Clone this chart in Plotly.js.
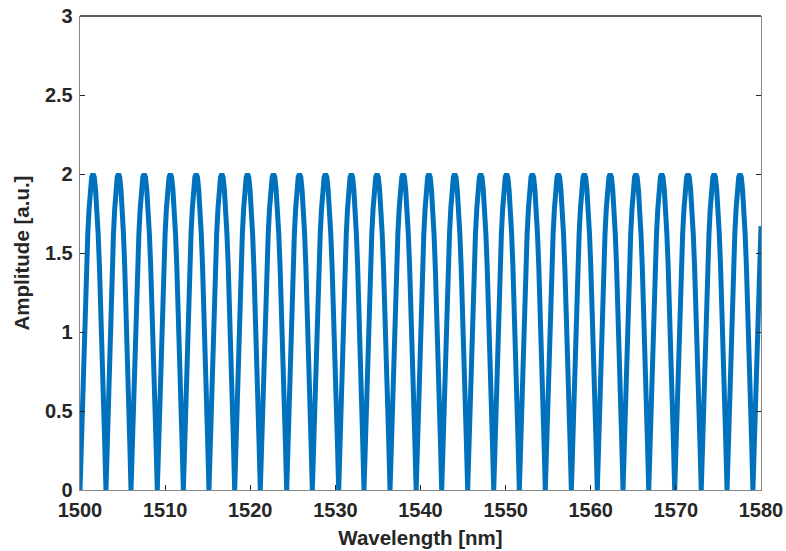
<!DOCTYPE html>
<html>
<head>
<meta charset="utf-8">
<script src="https://cdn.plot.ly/plotly-3.0.1.min.js"></script>
<style>html,body{margin:0;padding:0;background:#fff;}#chart{width:786px;height:551px;}</style>
</head>
<body>
<div id="chart"></div>
<script>
// Wavelengths (nm) of the zeros of the curve
const troughs = [1500.00,1503.05,1505.99,1509.08,1512.14,1515.15,1518.17,1521.18,1524.28,1527.29,
  1530.39,1533.36,1536.42,1539.49,1542.49,1545.54,1548.60,1551.61,1554.66,1557.72,
  1560.77,1563.79,1566.81,1569.86,1572.98,1576.01,1579.05];
// Shape of one fringe (fraction of period -> amplitude)
const profileFrac = [0,0.05,0.10,0.15,0.20,0.25,0.30,0.35,0.40,0.45,0.50,0.55,0.60,0.65,0.70,0.75,0.80,0.85,0.90,0.95];
const profileAmp  = [0,0.31,0.62,0.91,1.18,1.41,1.62,1.78,1.90,1.98,2.00,1.98,1.90,1.78,1.62,1.41,1.18,0.91,0.62,0.31];
// Last point of the curve at the right edge
const endWavelength = 1580;
const endAmp = 1.67;
const xTicks = [1500,1510,1520,1530,1540,1550,1560,1570,1580];
const yTicks = [0,0.5,1,1.5,2,2.5,3];
const yTickText = ['0','0.5','1','1.5','2','2.5','3'];

const xs = [], ys = [];
for (let i = 0; i < troughs.length; i++) {
  const period = (i < troughs.length - 1) ? troughs[i+1] - troughs[i] : troughs[i] - troughs[i-1];
  for (let k = 0; k < profileFrac.length; k++) {
    const x = troughs[i] + profileFrac[k] * period;
    if (x >= endWavelength) break;
    xs.push(x); ys.push(profileAmp[k]);
  }
}
xs.push(endWavelength); ys.push(endAmp);

const fam = 'Liberation Sans, Arial, Helvetica, sans-serif';
const font = {family: fam, size: 20, color: '#262626', weight: 'bold'};
const titleFont = {family: fam, size: 20.5, color: '#262626', weight: 'bold'};
const trace = {x: xs, y: ys, type: 'scatter', mode: 'lines',
  line: {color: '#0072BD', width: 5}, hoverinfo: 'skip'};
const layout = {
  width: 786, height: 551,
  margin: {l: 80, r: 25, t: 16, b: 61},
  paper_bgcolor: '#fff', plot_bgcolor: '#fff',
  showlegend: false,
  font: font,
  xaxis: {range: [1500, 1580], tickvals: xTicks, ticktext: xTicks.map(String),
    ticks: 'inside', ticklen: 5, tickwidth: 1, tickcolor: '#262626',
    showline: true, linecolor: '#868686', linewidth: 1.3, mirror: false,
    showgrid: false, zeroline: false, tickfont: font, ticklabelstandoff: 2,
    title: {text: 'Wavelength [nm]', font: titleFont, standoff: 10}},
  yaxis: {range: [0, 3], tickvals: yTicks, ticktext: yTickText,
    ticks: 'inside', ticklen: 5, tickwidth: 1, tickcolor: '#262626',
    showline: true, linecolor: '#868686', linewidth: 1.3, mirror: 'ticks',
    showgrid: false, zeroline: false, tickfont: font, ticklabelstandoff: 2,
    title: {text: 'Amplitude [a.u.]', font: titleFont, standoff: 9}},
  shapes: [{type: 'line', xref: 'paper', yref: 'paper', x0: 0, x1: 1, y0: 1, y1: 1,
    line: {color: '#262626', width: 1.3}}]
};
Plotly.newPlot('chart', [trace], layout, {staticPlot: true, displayModeBar: false});
</script>
</body>
</html>
